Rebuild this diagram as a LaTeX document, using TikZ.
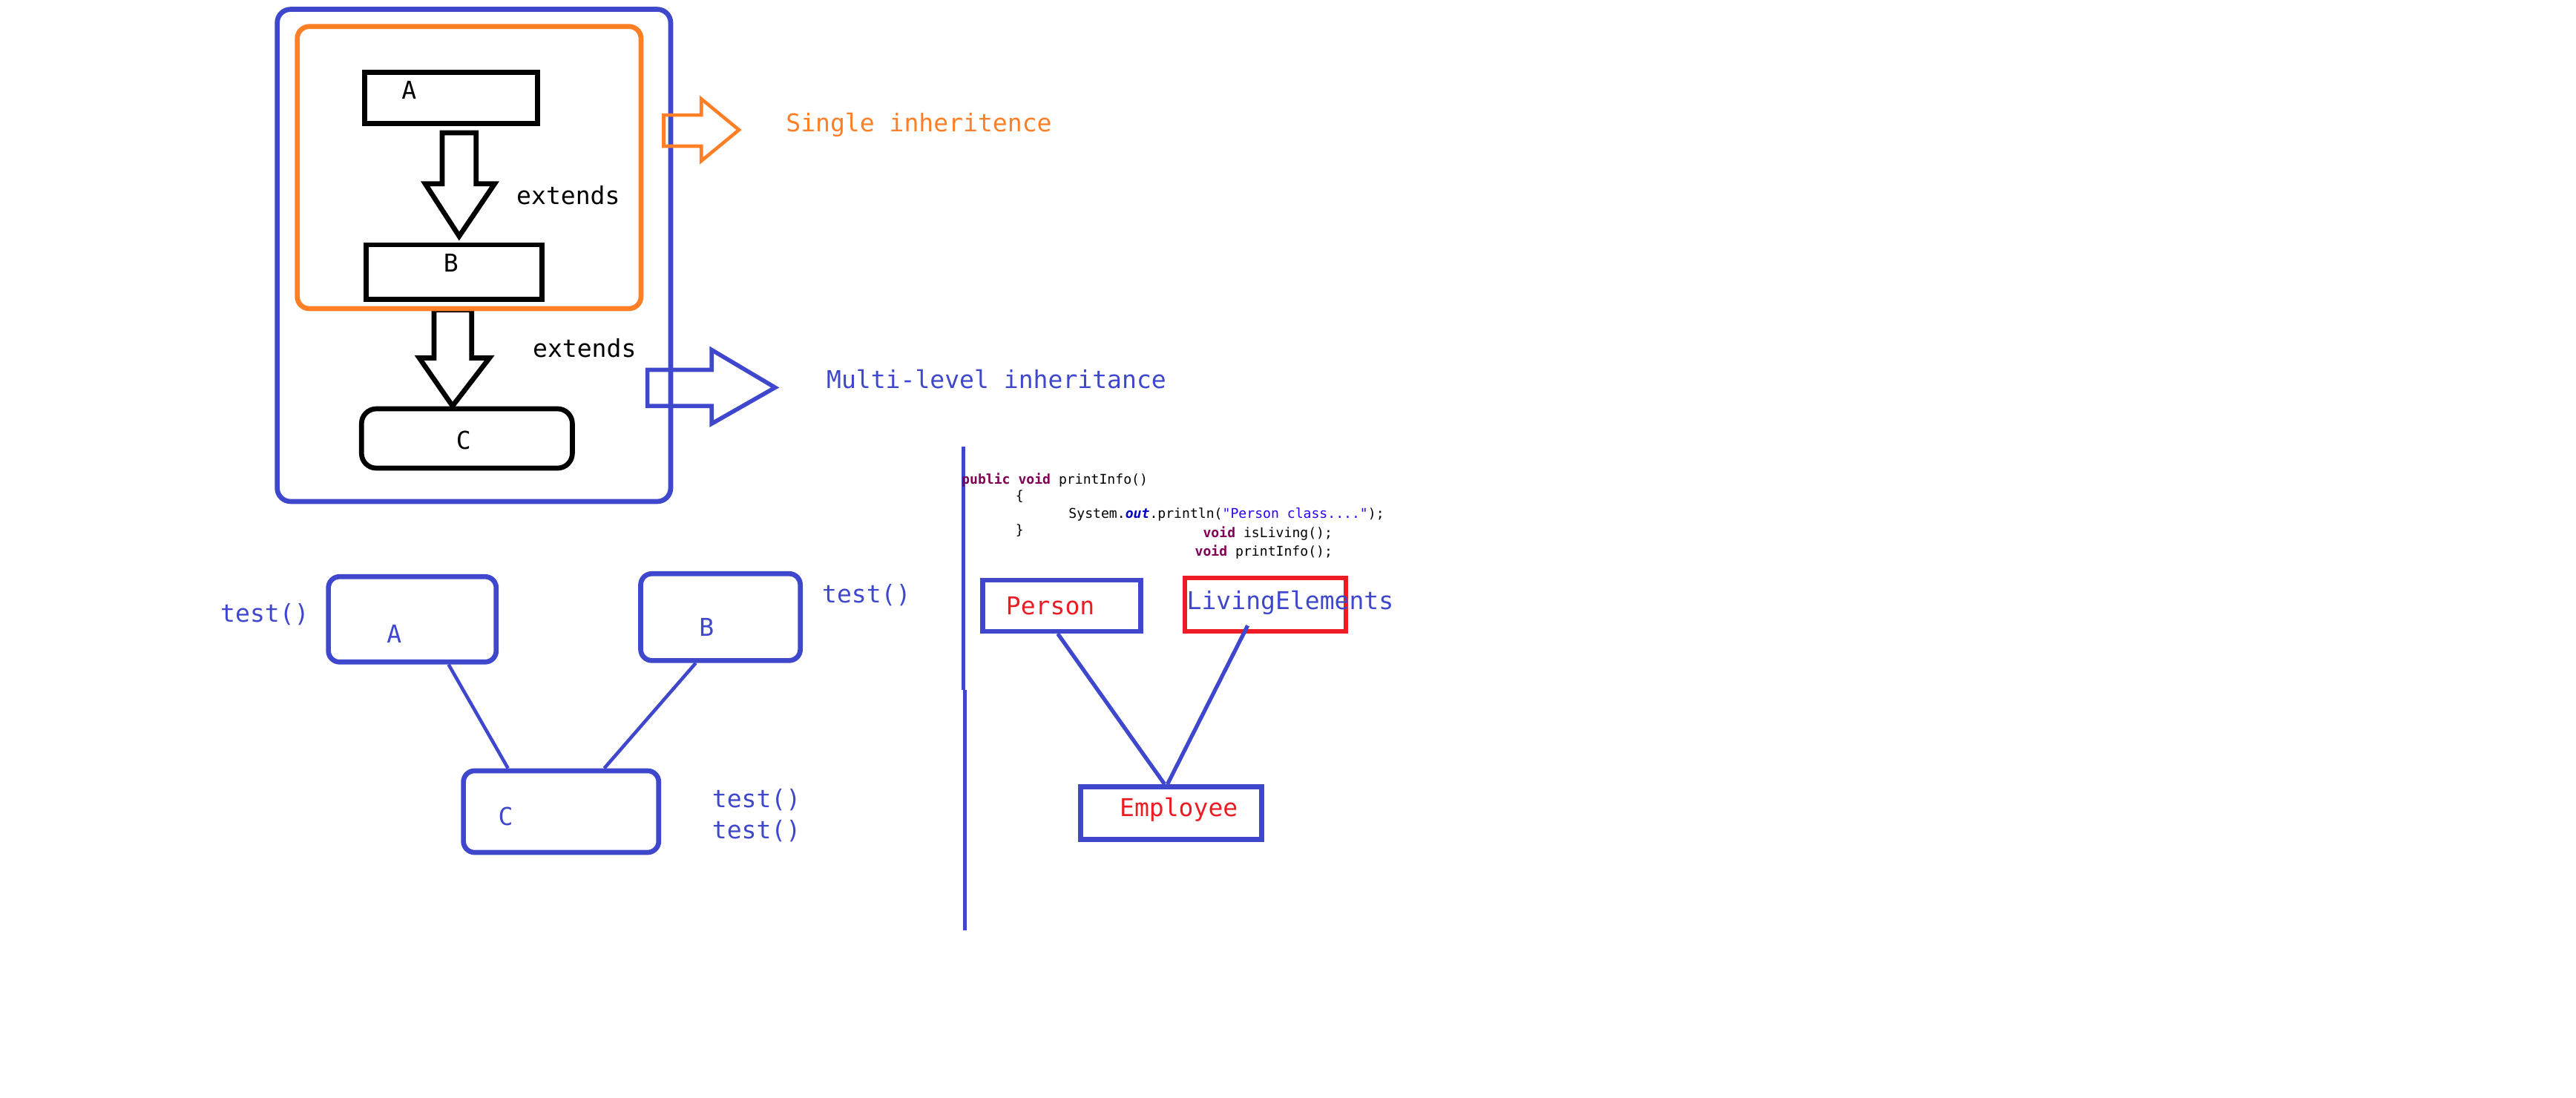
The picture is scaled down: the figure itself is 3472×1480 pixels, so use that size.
\documentclass[tikz,border=0pt]{standalone}
\usepackage{fontspec}
\usepackage{tikz}
\usetikzlibrary{calc}
\newfontfamily\labelfont{DejaVu Sans Mono}
\definecolor{paintblue}{RGB}{63,72,204}
\definecolor{paintorange}{RGB}{255,127,39}
\definecolor{paintred}{RGB}{237,28,36}
\definecolor{kwcolor}{RGB}{127,0,85}
\definecolor{fieldcolor}{RGB}{0,0,192}
\definecolor{strcolor}{RGB}{42,0,255}
\newcommand{\kw}[1]{\textcolor{kwcolor}{\bfseries #1}}
\tikzset{
  classbox/.style={draw, line width=1.9pt, inner sep=0pt},
  fatarrow/.style={draw, line width=1.9pt, line join=miter},
  lbl/.style={inner sep=0pt, font=\labelfont\fontsize{9.4}{11}\selectfont},
  codeln/.style={inner sep=0pt, anchor=west, font=\labelfont\fontsize{5.15}{6}\selectfont},
  link/.style={paintblue, line width=1.3pt}
}

\begin{document}
\begin{tikzpicture}[x=0.01cm, y=-0.01cm]
	\useasboundingbox (0,0) rectangle (3472,1480);
	\begin{scope}[scale=0.995]
	% single and multi-level inheritance
	\draw[fatarrow] (588,420) -- (639,420) -- (639,485) -- (663,485) -- (613,550) -- (568,485) -- (588,485) -- cycle;
	\node[classbox, paintblue, rounded corners=0.18cm, minimum width=5.3cm, minimum height=6.63cm] (multi) at (642,346) {};
	\node[classbox, paintorange, rounded corners=0.16cm, minimum width=4.63cm, minimum height=3.8cm] (single) at (635.5,227) {};
	\node[classbox, minimum width=2.33cm, minimum height=0.69cm] (A) at (611,132.5) {};
	\node[classbox, minimum width=2.37cm, minimum height=0.73cm] (B) at (615,368.5) {};
	\node[classbox, rounded corners=0.2cm, minimum width=2.84cm, minimum height=0.8cm] (C) at (632.5,594) {};
	\node[lbl] (tA) at (554,122) {A};
	\node[lbl] (tB) at (611,356) {B};
	\node[lbl] (tC) at (628,596) {C};
	\draw[fatarrow] (599,180) -- (645,180) -- (645,249) -- (670,249) -- (622,320) -- (576,249) -- (599,249) -- cycle;
	\node[lbl, anchor=west] (ext1) at (699,265) {extends};
	\node[lbl, anchor=west] (ext2) at (721,472) {extends};
	\draw[paintorange, line width=1.3pt, line join=miter] (899,156) -- (950,156) -- (950,134) -- (1001,176) -- (950,218) -- (950,198) -- (899,198) -- cycle;
	\draw[paintblue, line width=1.6pt, line join=miter] (877,501) -- (964,501) -- (964,474) -- (1050,525) -- (964,574) -- (964,550) -- (877,550) -- cycle;
	\node[lbl, anchor=west, paintorange] (singlelbl) at (1064,169) {Single inheritence};
	\node[lbl, anchor=west, paintblue] (multilbl) at (1119,514) {Multi-level inheritance};

	% multiple inheritance with classes
	\node[classbox, paintblue, rounded corners=0.15cm, minimum width=2.26cm, minimum height=1.15cm] (mA) at (558.5,839) {};
	\node[classbox, paintblue, rounded corners=0.15cm, minimum width=2.15cm, minimum height=1.17cm] (mB) at (976,836) {};
	\node[classbox, paintblue, rounded corners=0.15cm, minimum width=2.63cm, minimum height=1.1cm] (mC) at (760,1099.5) {};
	\node[lbl, paintblue] (tmA) at (534,859) {A};
	\node[lbl, paintblue] (tmB) at (957,850) {B};
	\node[lbl, paintblue] (tmC) at (685,1106) {C};
	\node[lbl, anchor=west, paintblue] (testA) at (298,832) {test()};
	\node[lbl, anchor=west, paintblue] (testB) at (1113,806) {test()};
	\node[lbl, anchor=west, paintblue] (testC1) at (964,1084) {test()};
	\node[lbl, anchor=west, paintblue] (testC2) at (964,1126) {test()};
	\draw[link] ($(mA.south west)!0.71!(mA.south east)$) -- ($(mC.north west)!0.235!(mC.north east)$);
	\draw[link] ($(mB.south west)!0.35!(mB.south east)$) -- ($(mC.north west)!0.716!(mC.north east)$);

	% separator
	\coordinate (septop) at (1305,605);
	\coordinate (sepmid) at (1305,935);
	\coordinate (sepbot) at (1307,1260);
	\draw[link] (septop) -- (sepmid);
	\draw[link] (sepmid -| sepbot) -- (sepbot);

	% interface code
	\node[codeln] (c1) at (1302,650) {\kw{public} \kw{void} printInfo()};
	\node[codeln] (c2) at (1375,672) {\{};
	\node[codeln] (c3) at (1447,697) {System.\textcolor{fieldcolor}{\bfseries\itshape out}.println(\textcolor{strcolor}{"Person class...."});};
	\node[codeln] (c4) at (1375,719) {\}};
	\node[codeln] (c5) at (1629,723) {\kw{void} isLiving();};
	\node[codeln] (c6) at (1618,748) {\kw{void} printInfo();};

	% multiple inheritance with interface
	\node[classbox, paintblue, minimum width=2.13cm, minimum height=0.69cm] (person) at (1438,820.5) {};
	\node[classbox, paintred, minimum width=2.17cm, minimum height=0.72cm] (living) at (1714,819) {};
	\node[classbox, paintblue, minimum width=2.44cm, minimum height=0.71cm] (employee) at (1586.5,1101.5) {};
	\node[lbl, anchor=west, paintred] (tperson) at (1362,821) {Person};
	\node[lbl, anchor=west, paintblue] (tliving) at (1607,817) {LivingElements};
	\node[lbl, anchor=west, paintred] (temployee) at (1516,1097) {Employee};
	\draw[link, line width=1.5pt] ($(person.south west)!0.477!(person.south east)$) -- ($(employee.north west)!0.465!(employee.north east)$);
	\draw[link, line width=1.5pt] ($(living.south west)!0.394!(living.south east)+(0,-11)$) -- ($(employee.north west)!0.48!(employee.north east)$);
	\end{scope}
\end{tikzpicture}
\end{document}
